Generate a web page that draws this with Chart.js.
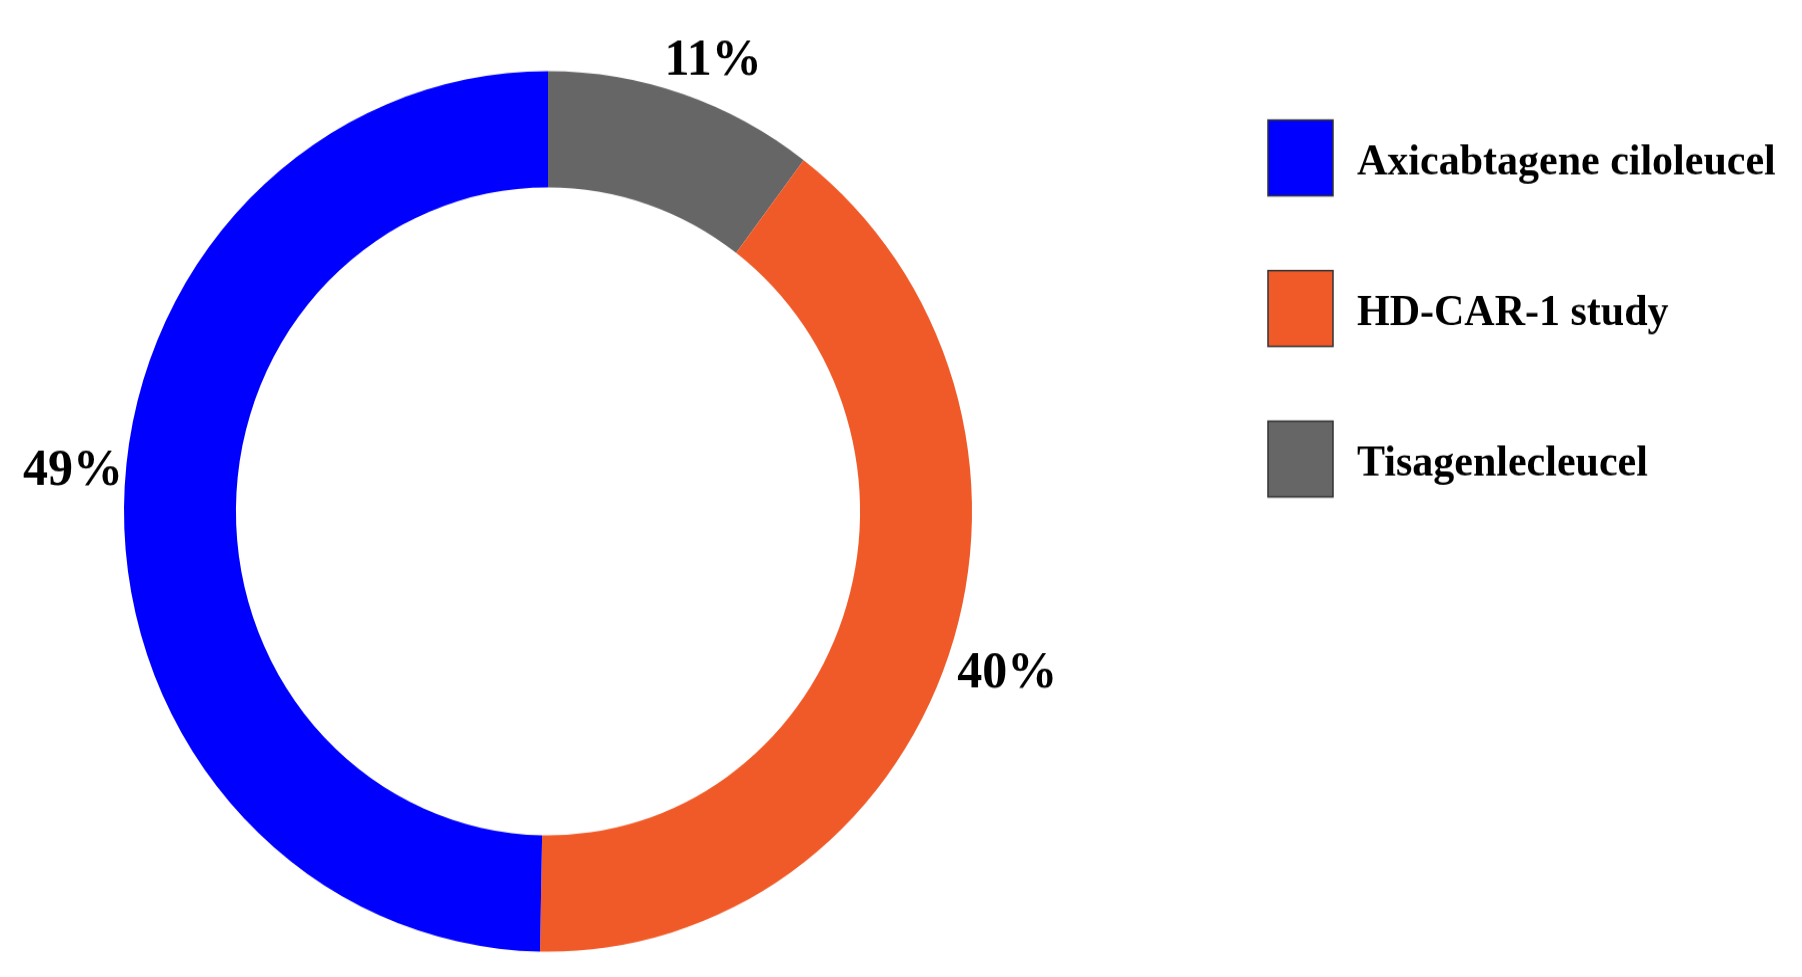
<!DOCTYPE html>
<html>
<head>
<meta charset="utf-8">
<script src="https://cdn.jsdelivr.net/npm/chart.js@4/dist/chart.umd.min.js"></script>
<style>
  html, body { margin: 0; padding: 0; background: #fff; }
  #wrap { width: 1802px; height: 977px; overflow: hidden; }
  #chart { transform: scaleY(1.0383); transform-origin: 0 0; }
</style>
</head>
<body>
<div id="wrap"><canvas id="chart" width="1802" height="941"></canvas></div>
<script>
// slices in drawing order (clockwise from the top)
const labels = ['Tisagenlecleucel', 'HD-CAR-1 study', 'Axicabtagene ciloleucel'];
const shares = [10.3, 40, 49.7];
const pctLabels = ['11%', '40%', '49%'];
const colors = ['#666666', '#F05A28', '#0000FF'];

const serif = '"Liberation Serif", "Times New Roman", serif';

// small nudges so the labels sit where the original put them
const labelNudge = [[11, -3], [0, 8], [11, -34]];

// percent labels outside the ring
const pctPlugin = {
    id: 'pctLabels',
    afterDatasetsDraw(chart) {
        const ctx = chart.ctx;
        const meta = chart.getDatasetMeta(0);
        ctx.save();
        ctx.font = 'bold 50px ' + serif;
        ctx.fillStyle = '#000';
        ctx.textAlign = 'center';
        ctx.textBaseline = 'middle';
        meta.data.forEach((arc, i) => {
            const p = arc.getProps(['x', 'y', 'startAngle', 'endAngle', 'outerRadius'], true);
            const a = (p.startAngle + p.endAngle) / 2;
            const r = p.outerRadius + 12;
            const w = ctx.measureText(pctLabels[i]).width;
            const cx = p.x + Math.cos(a) * (r + w / 2) + labelNudge[i][0];
            const cy = p.y + Math.sin(a) * (r + 18) + labelNudge[i][1];
            ctx.fillText(pctLabels[i], cx, cy);
        });
        ctx.restore();
    }
};

// legend top-right, in reverse slice order
const legendPlugin = {
    id: 'sideLegend',
    afterDraw(chart) {
        const ctx = chart.ctx;
        ctx.save();
        ctx.font = 'bold 42px ' + serif;
        ctx.textBaseline = 'middle';
        const order = [2, 1, 0];
        order.forEach((k, i) => {
            const y = 115.6 + i * 145;
            ctx.fillStyle = colors[k];
            ctx.fillRect(1268, y, 65, 73);
            ctx.strokeStyle = '#333';
            ctx.lineWidth = 1.5;
            ctx.strokeRect(1268, y, 65, 73);
            ctx.fillStyle = '#000';
            ctx.fillText(labels[k], 1357, y + 42);
        });
        ctx.restore();
    }
};

new Chart(document.getElementById('chart'), {
    type: 'doughnut',
    data: {
        labels: labels,
        datasets: [{
            data: shares,
            backgroundColor: colors,
            borderWidth: 0,
            hoverOffset: 0
        }]
    },
    options: {
        responsive: false,
        animation: false,
        cutout: '73.6%',
        layout: { padding: { left: 124, top: 68.5, right: 830, bottom: 24.5 } },
        plugins: {
            legend: { display: false },
            tooltip: { enabled: false }
        }
    },
    plugins: [pctPlugin, legendPlugin]
});
</script>
</body>
</html>
